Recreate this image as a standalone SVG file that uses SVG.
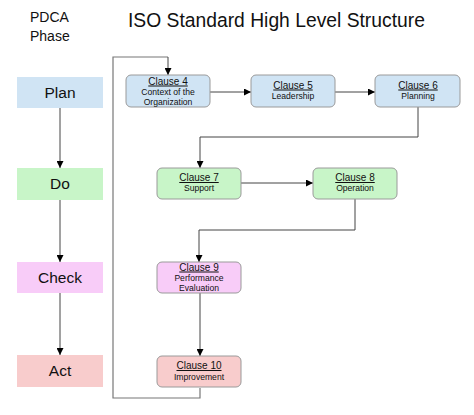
<svg xmlns="http://www.w3.org/2000/svg" width="474" height="415" viewBox="0 0 474 415">
<defs>
<style>
text{font-family:"Liberation Sans",Arial,sans-serif;fill:#111}
.ph{font-size:15.5px;text-anchor:middle}
.cl{font-size:10px;text-anchor:middle;text-decoration:underline}
.ds{font-size:8.6px;text-anchor:middle}
.cb{stroke:#9a9a9a;stroke-width:1}
.ln{fill:none;stroke:#444;stroke-width:1}
.fb{fill:none;stroke:#777;stroke-width:1.2}
</style>
<marker id="ah" viewBox="0 0 10 10" refX="10" refY="5" markerWidth="9" markerHeight="7" markerUnits="userSpaceOnUse" orient="auto">
<path d="M0,0 L10,5 L0,10 z" fill="#000"/>
</marker>
</defs>
<rect width="474" height="415" fill="#fff"/>
<text x="30" y="22" style="font-size:14px">PDCA</text>
<text x="30" y="41" style="font-size:14px">Phase</text>
<text x="128" y="27" style="font-size:19.3px">ISO Standard High Level Structure</text>

<g id="connectors">
<path class="fb" d="M200,388 V398 H113 V57 H168"/>
<path class="ln" d="M168,57 V75" marker-end="url(#ah)"/>
<path class="ln" d="M60,108 V168" marker-end="url(#ah)"/>
<path class="ln" d="M60,200 V262" marker-end="url(#ah)"/>
<path class="ln" d="M60,293 V355" marker-end="url(#ah)"/>
<path class="ln" d="M210,92 H251" marker-end="url(#ah)"/>
<path class="ln" d="M335,92 H375" marker-end="url(#ah)"/>
<path class="ln" d="M418,107 V137 H200 V168" marker-end="url(#ah)"/>
<path class="ln" d="M241,183 H313" marker-end="url(#ah)"/>
<path class="ln" d="M355,199 V230 H199 V262" marker-end="url(#ah)"/>
<path class="ln" d="M200,293 V356" marker-end="url(#ah)"/>
</g>

<g id="plan"><rect x="17" y="77" width="86" height="31" fill="#d0e4f4"/><text class="ph" x="60" y="98">Plan</text></g>
<g id="do"><rect x="17" y="168" width="86" height="32" fill="#c8f5c8"/><text class="ph" x="60" y="189">Do</text></g>
<g id="check"><rect x="17" y="262" width="86" height="31" fill="#f8ccf8"/><text class="ph" x="60" y="283">Check</text></g>
<g id="act"><rect x="17" y="355" width="86" height="32" fill="#f8cccc"/><text class="ph" x="60" y="376">Act</text></g>

<g id="clause4"><rect class="cb" x="126" y="75" width="84" height="32" rx="5" fill="#d0e4f4"/><text class="cl" x="168" y="84.5">Clause 4</text><text class="ds" x="168" y="94.5">Context of the</text><text class="ds" x="168" y="104.5">Organization</text></g>
<g id="clause5"><rect class="cb" x="251" y="75" width="84" height="32" rx="5" fill="#d0e4f4"/><text class="cl" x="293" y="88.5">Clause 5</text><text class="ds" x="293" y="99">Leadership</text></g>
<g id="clause6"><rect class="cb" x="375" y="75" width="85" height="32" rx="5" fill="#d0e4f4"/><text class="cl" x="418" y="88.5">Clause 6</text><text class="ds" x="418" y="99">Planning</text></g>
<g id="clause7"><rect class="cb" x="157" y="168" width="84" height="31" rx="5" fill="#c8f5c8"/><text class="cl" x="199" y="181">Clause 7</text><text class="ds" x="199" y="191">Support</text></g>
<g id="clause8"><rect class="cb" x="313" y="168" width="84" height="31" rx="5" fill="#c8f5c8"/><text class="cl" x="355" y="181">Clause 8</text><text class="ds" x="355" y="191">Operation</text></g>
<g id="clause9"><rect class="cb" x="157" y="262" width="84" height="31" rx="5" fill="#f8ccf8"/><text class="cl" x="199" y="270.5">Clause 9</text><text class="ds" x="199" y="280.5">Performance</text><text class="ds" x="199" y="290.5">Evaluation</text></g>
<g id="clause10"><rect class="cb" x="157" y="356" width="84" height="31" rx="5" fill="#f8cccc"/><text class="cl" x="199" y="369">Clause 10</text><text class="ds" x="199" y="379.5">Improvement</text></g>
</svg>
